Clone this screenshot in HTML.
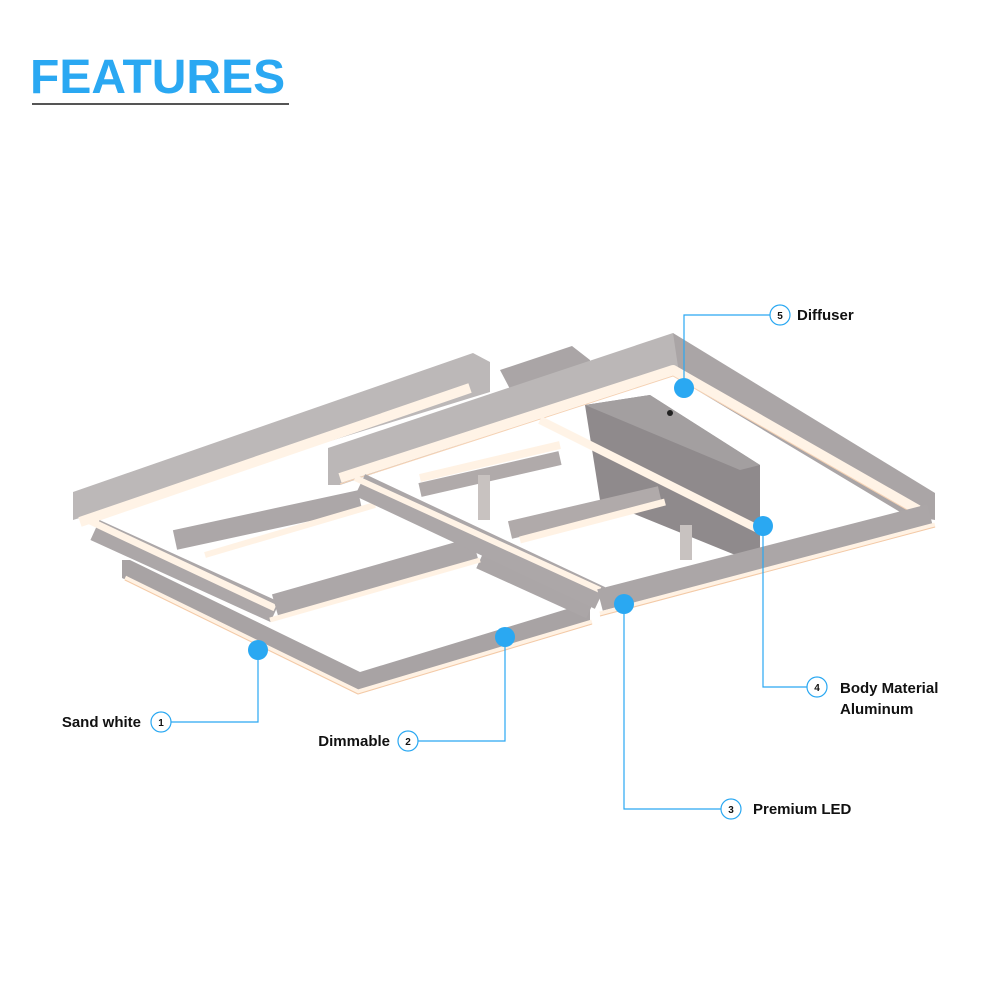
<!DOCTYPE html>
<html><head><style>
body{margin:0;background:#fff;width:1000px;height:1000px;overflow:hidden;font-family:"Liberation Sans",sans-serif}
</style></head><body>
<svg width="1000" height="1000" viewBox="0 0 1000 1000" xmlns="http://www.w3.org/2000/svg">
<text x="30" y="93" font-family="Liberation Sans, sans-serif" font-weight="bold" font-size="48" fill="#2aa8f2">FEATURES</text>
<line x1="32" y1="104" x2="289" y2="104" stroke="#555" stroke-width="2"/>

<!-- lamp -->
<g stroke-linejoin="round">
<!-- back small box -->
<polygon points="500,370 572,346 590,360 590,385 520,408" fill="#aaa5a6"/>
<!-- canopy -->
<polygon points="585,405 650,395 760,465 760,565 600,500" fill="#8f8a8c"/>
<polygon points="585,405 650,395 760,465 740,470" fill="#a39fa0"/>
<!-- lower inner frame C -->
<polygon points="122,560 130,560 360,672 590,602 590,625 358,692 122,578" fill="#a8a3a4"/>
<polyline points="125,578 358,692 592,622" fill="none" stroke="#fff2e4" stroke-width="5"/>
<polyline points="125,580 358,694 592,624" fill="none" stroke="#f3c9a6" stroke-width="1"/>
<line x1="480" y1="560" x2="590" y2="610" stroke="#aba6a7" stroke-width="18"/>
<!-- frame A -->
<polygon points="73,492 473,353 490,362 490,392 73,520" fill="#bcb8b8"/>
<polyline points="80,522 470,388" fill="none" stroke="#fff3e6" stroke-width="10"/>
<line x1="95" y1="530" x2="275" y2="612" stroke="#aca7a8" stroke-width="22"/>
<line x1="88" y1="520" x2="275" y2="608" stroke="#fff3e6" stroke-width="7"/>
<line x1="275" y1="605" x2="475" y2="548" stroke="#aca7a8" stroke-width="22"/>
<line x1="270" y1="620" x2="480" y2="560" stroke="#fff2e4" stroke-width="5"/>
<line x1="175" y1="540" x2="360" y2="500" stroke="#aca7a8" stroke-width="20"/>
<line x1="205" y1="555" x2="375" y2="505" stroke="#fff2e4" stroke-width="6"/>
<!-- inner center frames -->
<line x1="420" y1="478" x2="560" y2="445" stroke="#fff2e4" stroke-width="8"/>
<line x1="420" y1="490" x2="560" y2="458" stroke="#b0aaaa" stroke-width="14"/>
<line x1="510" y1="530" x2="660" y2="495" stroke="#b0aaaa" stroke-width="18"/>
<line x1="520" y1="540" x2="665" y2="502" stroke="#fff2e4" stroke-width="7"/>
<rect x="478" y="475" width="12" height="45" fill="#c8c2c0"/>
<rect x="680" y="525" width="12" height="35" fill="#c8c2c0"/>
<!-- frame B -->
<polygon points="328,448 673,333 680,340 680,370 340,485 328,485" fill="#bbb7b7"/>
<polygon points="673,333 935,493 935,520 905,515 680,380" fill="#aaa5a6"/>
<polyline points="340,478 673,370 918,510" fill="none" stroke="#fff3e6" stroke-width="10"/>
<polyline points="340,484 673,376 918,516" fill="none" stroke="#f5d2b4" stroke-width="1"/>
<line x1="360" y1="485" x2="600" y2="598" stroke="#aca7a8" stroke-width="24"/>
<line x1="355" y1="478" x2="600" y2="590" stroke="#fff3e6" stroke-width="6"/>
<line x1="540" y1="420" x2="760" y2="530" stroke="#fff3e6" stroke-width="8"/>
<line x1="600" y1="600" x2="930" y2="515" stroke="#aba6a7" stroke-width="22"/>
<line x1="600" y1="614" x2="935" y2="525" stroke="#fff2e4" stroke-width="5"/>
<line x1="600" y1="616" x2="935" y2="527" stroke="#f3c9a6" stroke-width="1"/>
<circle cx="670" cy="413" r="3" fill="#222"/>
</g>

<!-- callouts -->
<g stroke="#2aa8f2" stroke-width="1.2" fill="none">
<polyline points="258,650 258,722 171,722"/>
<polyline points="505,637 505,741 418,741"/>
<polyline points="624,604 624,809 721,809"/>
<polyline points="763,526 763,687 807,687"/>
<polyline points="684,388 684,315 770,315"/>
<circle cx="161" cy="722" r="10" fill="#fff"/>
<circle cx="408" cy="741" r="10" fill="#fff"/>
<circle cx="731" cy="809" r="10" fill="#fff"/>
<circle cx="817" cy="687" r="10" fill="#fff"/>
<circle cx="780" cy="315" r="10" fill="#fff"/>
</g>
<g fill="#2aa8f2">
<circle cx="258" cy="650" r="10"/>
<circle cx="505" cy="637" r="10"/>
<circle cx="624" cy="604" r="10"/>
<circle cx="763" cy="526" r="10"/>
<circle cx="684" cy="388" r="10"/>
</g>
<g font-family="Liberation Sans, sans-serif" font-weight="bold" font-size="10" fill="#111" text-anchor="middle">
<text x="161" y="726">1</text>
<text x="408" y="745">2</text>
<text x="731" y="813">3</text>
<text x="817" y="691">4</text>
<text x="780" y="319">5</text>
</g>
<g font-family="Liberation Sans, sans-serif" font-weight="bold" font-size="15" fill="#111">
<text x="141" y="727" text-anchor="end">Sand white</text>
<text x="390" y="746" text-anchor="end">Dimmable</text>
<text x="753" y="814">Premium LED</text>
<text x="840" y="693">Body Material</text>
<text x="840" y="714">Aluminum</text>
<text x="797" y="320">Diffuser</text>
</g>
</svg>
</body></html>
